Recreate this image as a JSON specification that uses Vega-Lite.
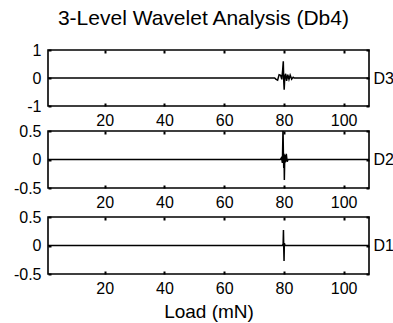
{
  "$schema": "https://vega.github.io/schema/vega-lite/v6.json",
  "padding": {"left": 12, "top": 8, "right": 5, "bottom": 5},
  "title": {"text": "3-Level Wavelet Analysis (Db4)", "fontSize": 21, "fontWeight": "normal", "font": "Liberation Sans", "color": "black", "anchor": "middle", "offset": 12},
  "bounds": "flush",
  "spacing": 25,
  "datasets": {
    "d3": [
      {"x": 1, "y": 0}, {"x": 76.9, "y": 0}, {"x": 77.4, "y": -0.05}, {"x": 77.9, "y": -0.08},
      {"x": 78.4, "y": 0.12}, {"x": 78.9, "y": 0.1}, {"x": 79.3, "y": -0.05}, {"x": 79.6, "y": 0.3},
      {"x": 79.8, "y": 0.6}, {"x": 79.95, "y": -0.1}, {"x": 80.1, "y": -0.42}, {"x": 80.3, "y": 0.05},
      {"x": 80.6, "y": 0.15}, {"x": 80.9, "y": -0.1}, {"x": 81.3, "y": 0.12}, {"x": 81.7, "y": -0.05},
      {"x": 82.1, "y": 0.1}, {"x": 82.6, "y": -0.04}, {"x": 83.1, "y": 0.03}, {"x": 83.5, "y": 0},
      {"x": 108.5, "y": 0}
    ],
    "d2": [
      {"x": 1, "y": 0}, {"x": 78.8, "y": 0}, {"x": 79.2, "y": 0.03}, {"x": 79.5, "y": -0.06},
      {"x": 79.7, "y": 0.55}, {"x": 79.85, "y": 0.05}, {"x": 79.95, "y": -0.15}, {"x": 80.05, "y": 0.1},
      {"x": 80.15, "y": -0.36}, {"x": 80.3, "y": 0.08}, {"x": 80.5, "y": -0.05}, {"x": 80.8, "y": 0.1},
      {"x": 81.1, "y": -0.04}, {"x": 81.4, "y": 0}, {"x": 108.5, "y": 0}
    ],
    "d1": [
      {"x": 1, "y": 0}, {"x": 79.5, "y": 0}, {"x": 79.75, "y": 0.03}, {"x": 79.85, "y": 0.27},
      {"x": 79.95, "y": -0.05}, {"x": 80.05, "y": -0.27}, {"x": 80.15, "y": 0.04}, {"x": 80.4, "y": 0},
      {"x": 108.5, "y": 0}
    ]
  },
  "vconcat": [
    {
      "width": 321, "height": 56,
      "data": {"name": "d3"},
      "layer": [
        {
          "mark": {"type": "line", "color": "black", "strokeWidth": 1.5, "clip": true},
          "encoding": {
            "x": {"field": "x", "type": "quantitative", "scale": {"domain": [1, 108.5], "nice": false, "zero": false},
                  "axis": {"orient": "bottom", "values": [20, 40, 60, 80, 100], "title": null, "labelPadding": 9}},
            "y": {"field": "y", "type": "quantitative", "scale": {"domain": [-1, 1], "nice": false},
                  "axis": {"orient": "left", "values": [-1, 0, 1], "title": null, "labelPadding": 10, "labelExpr": "'' + datum.value"}}
          }
        },
        {
          "mark": {"type": "line", "strokeOpacity": 0},
          "encoding": {
            "x": {"field": "x", "type": "quantitative",
                  "axis": {"orient": "top", "values": [20, 40, 60, 80, 100], "title": null, "labels": false}},
            "y": {"field": "y", "type": "quantitative",
                  "axis": {"orient": "right", "values": [-1, 0, 1], "labels": false, "title": "D3", "titleAngle": 0, "titleAlign": "left", "titleBaseline": "middle", "titleX": 4, "titleY": 28, "titleFontSize": 16, "titleFontWeight": "normal"}}
          }
        }
      ],
      "resolve": {"axis": {"x": "independent", "y": "independent"}}
    },
    {
      "bounds": "flush",
      "spacing": 29,
      "vconcat": [
        {
          "width": 321, "height": 57,
          "data": {"name": "d2"},
          "layer": [
            {
              "mark": {"type": "line", "color": "black", "strokeWidth": 1.5, "clip": true},
              "encoding": {
                "x": {"field": "x", "type": "quantitative", "scale": {"domain": [1, 108.5], "nice": false, "zero": false},
                      "axis": {"orient": "bottom", "values": [20, 40, 60, 80, 100], "title": null, "labelPadding": 9}},
                "y": {"field": "y", "type": "quantitative", "scale": {"domain": [-0.5, 0.5], "nice": false},
                      "axis": {"orient": "left", "values": [-0.5, 0, 0.5], "title": null, "labelPadding": 10, "labelExpr": "'' + datum.value"}}
              }
            },
            {
              "mark": {"type": "line", "strokeOpacity": 0},
              "encoding": {
                "x": {"field": "x", "type": "quantitative",
                      "axis": {"orient": "top", "values": [20, 40, 60, 80, 100], "title": null, "labels": false}},
                "y": {"field": "y", "type": "quantitative",
                      "axis": {"orient": "right", "values": [-0.5, 0, 0.5], "labels": false, "title": "D2", "titleAngle": 0, "titleAlign": "left", "titleBaseline": "middle", "titleX": 4, "titleY": 28.5, "titleFontSize": 16, "titleFontWeight": "normal"}}
              }
            }
          ],
          "resolve": {"axis": {"x": "independent", "y": "independent"}}
        },
        {
          "width": 321, "height": 57,
          "data": {"name": "d1"},
          "layer": [
            {
              "mark": {"type": "line", "color": "black", "strokeWidth": 1.5, "clip": true},
              "encoding": {
                "x": {"field": "x", "type": "quantitative", "scale": {"domain": [1, 108.5], "nice": false, "zero": false},
                      "axis": {"orient": "bottom", "values": [20, 40, 60, 80, 100], "title": "Load (mN)", "titleFontSize": 19, "titlePadding": 6, "labelPadding": 9}},
                "y": {"field": "y", "type": "quantitative", "scale": {"domain": [-0.5, 0.5], "nice": false},
                      "axis": {"orient": "left", "values": [-0.5, 0, 0.5], "title": null, "labelPadding": 10, "labelExpr": "'' + datum.value"}}
              }
            },
            {
              "mark": {"type": "line", "strokeOpacity": 0},
              "encoding": {
                "x": {"field": "x", "type": "quantitative",
                      "axis": {"orient": "top", "values": [20, 40, 60, 80, 100], "title": null, "labels": false}},
                "y": {"field": "y", "type": "quantitative",
                      "axis": {"orient": "right", "values": [-0.5, 0, 0.5], "labels": false, "title": "D1", "titleAngle": 0, "titleAlign": "left", "titleBaseline": "middle", "titleX": 4, "titleY": 28.5, "titleFontSize": 16, "titleFontWeight": "normal"}}
              }
            }
          ],
          "resolve": {"axis": {"x": "independent", "y": "independent"}}
        }
      ]
    }
  ],
  "config": {
    "font": "Liberation Sans",
    "view": {"stroke": "black", "strokeWidth": 1.6},
    "axis": {"grid": false, "domain": false, "tickColor": "black", "tickWidth": 2, "tickSize": -3,
             "labelFont": "Liberation Sans", "labelFontSize": 16, "labelColor": "black",
             "titleFont": "Liberation Sans", "titleColor": "black", "titleFontWeight": "normal"}
  }
}
